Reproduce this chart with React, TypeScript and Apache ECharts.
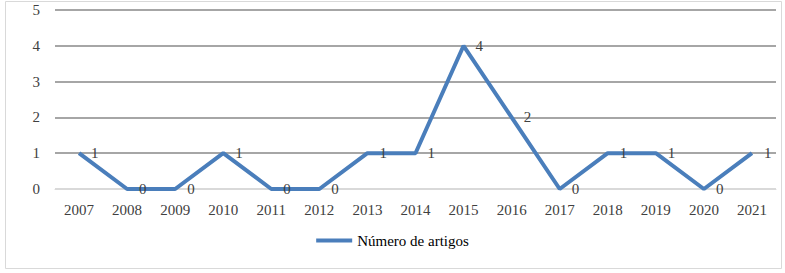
import React, { useEffect, useRef } from "react";
import * as echarts from "echarts";

const categories = ["2007", "2008", "2009", "2010", "2011", "2012", "2013", "2014", "2015", "2016", "2017", "2018", "2019", "2020", "2021"];
const articleCounts = [1, 0, 0, 1, 0, 0, 1, 1, 4, 2, 0, 1, 1, 0, 1];
const seriesName = "Número de artigos";

const FONT = "serif";
const TEXT = "#404040";

export default function App() {
  const ref = useRef<HTMLDivElement>(null);
  useEffect(() => {
    document.body.style.margin = "0";
    const chart = echarts.init(ref.current!, undefined, { renderer: "svg" });
    chart.setOption({
      animation: false,
      backgroundColor: "#ffffff",
      textStyle: { fontFamily: FONT },
      graphic: [
        {
          type: "rect",
          shape: { x: 5.5, y: 1.5, width: 776, height: 267 },
          style: { fill: "none", stroke: "#d9d9d9", lineWidth: 1 },
          silent: true,
        },
      ],
      grid: { left: 55, right: 9, top: 10, bottom: 84, containLabel: false },
      legend: {
        bottom: 20,
        left: "center",
        itemWidth: 36,
        itemHeight: 4,
        textStyle: { fontFamily: FONT, fontSize: 15, color: "#000000" },
        data: [{ name: seriesName, icon: "rect" }],
      },
      xAxis: {
        type: "category",
        data: categories,
        boundaryGap: true,
        axisTick: { show: false },
        axisLine: { lineStyle: { color: "#d9d9d9", width: 1 } },
        axisLabel: { color: TEXT, fontFamily: FONT, fontSize: 15, margin: 13 },
      },
      yAxis: {
        type: "value",
        min: 0,
        max: 5,
        interval: 1,
        axisLine: { show: false },
        axisTick: { show: false },
        axisLabel: { color: TEXT, fontFamily: FONT, fontSize: 15, margin: 15 },
        splitLine: {
          lineStyle: {
            color: ["#d9d9d9", "#a6a6a6", "#a6a6a6", "#a6a6a6", "#a6a6a6", "#a6a6a6"],
            width: 2,
          },
        },
      },
      series: [
        {
          name: seriesName,
          type: "line",
          data: articleCounts,
          symbol: "circle",
          symbolSize: 0,
          showSymbol: true,
          lineStyle: { color: "#4a7ebb", width: 4 },
          itemStyle: { color: "#4a7ebb" },
          label: {
            show: true,
            position: "right",
            distance: 12,
            color: TEXT,
            fontFamily: FONT,
            fontSize: 15,
          },
        },
      ],
    });
    return () => chart.dispose();
  }, []);
  return <div ref={ref} style={{ width: 785, height: 273 }} />;
}
